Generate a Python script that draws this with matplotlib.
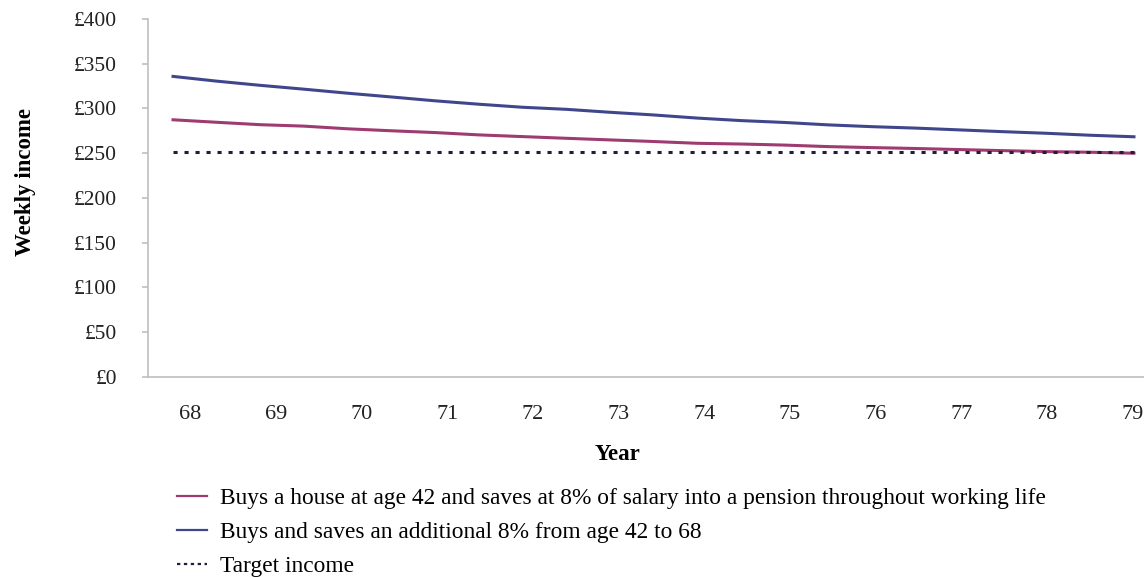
import matplotlib
matplotlib.use("Agg")
import matplotlib.pyplot as plt

plt.rcParams['font.family'] = ['Liberation Serif', 'DejaVu Serif']

# half-year steps from age 68 to 79
ages = [68.0, 68.5, 69.0, 69.5, 70.0, 70.5, 71.0, 71.5, 72.0, 72.5, 73.0, 73.5,
        74.0, 74.5, 75.0, 75.5, 76.0, 76.5, 77.0, 77.5, 78.0, 78.5, 79.0]

house_8pct = [287.3, 284.5, 281.8, 280.2, 277.2, 275.0, 273.0, 270.4, 268.5, 266.6,
              264.8, 263.0, 261.0, 260.2, 259.0, 257.3, 256.2, 255.2, 254.0, 252.8,
              251.7, 251.0, 249.9]
extra_8pct = [335.8, 330.5, 325.8, 321.5, 317.0, 312.8, 308.5, 304.7, 301.3, 299.0,
              295.7, 292.7, 289.2, 286.4, 284.3, 281.6, 279.6, 278.0, 276.0, 274.0,
              272.2, 270.0, 268.3]
target = [251.0] * len(ages)

year_labels = ['68', '69', '70', '71', '72', '73', '74', '75', '76', '77', '78', '79']
y_ticks = [0, 50, 100, 150, 200, 250, 300, 350, 400]

labels = ['Buys a house at age 42 and saves at 8% of salary into a pension throughout working life',
          'Buys and saves an additional 8% from age 42 to 68',
          'Target income']

fig = plt.figure(figsize=(11.44, 5.77), dpi=100)
ax = fig.add_axes([0.1294, 0.3471, 0.8706, 0.6200])

l1, = ax.plot(ages, house_8pct, color='#9E3B70', lw=2.2)
l2, = ax.plot(ages, extra_8pct, color='#40468C', lw=2.2)
l3, = ax.plot(ages, target, color='#231C3A', lw=2.2, linestyle=(0, (1.35, 2.25)))

ax.set_xlim(67.714, 79.115)
ax.set_ylim(0, 400)

ax.set_yticks(y_ticks)
ax.set_yticklabels(['£%d' % v for v in y_ticks])
tick_pos = [68.195 + 0.981 * k for k in range(len(year_labels))]
ax.set_xticks(tick_pos)
ax.set_xticklabels(year_labels)

for s in ['top', 'right']:
    ax.spines[s].set_visible(False)
for s in ['left', 'bottom']:
    ax.spines[s].set_color('#BFBFBF')
    ax.spines[s].set_linewidth(1.2)

ax.tick_params(axis='y', length=4.5, width=1.2, color='#BFBFBF', labelsize=15.5, pad=18,
               labelcolor='#222222')
ax.tick_params(axis='x', length=0, labelsize=16, pad=20, labelcolor='#222222')

ax.set_ylabel('Weekly income', fontsize=16.5, fontweight='bold')
ax.yaxis.set_label_coords(-0.1125, 0.545)
ax.set_xlabel('Year', fontsize=16.5, fontweight='bold')
ax.xaxis.set_label_coords((617 - 148) / (1144 - 148), -0.187)

leg = fig.legend([l1, l2, l3], labels, loc='upper left', bbox_to_anchor=(0.1467, 0.171),
                 frameon=False, fontsize=16.8, handlelength=1.3, handletextpad=0.55,
                 labelspacing=0.54, borderaxespad=0)
for h in leg.legend_handles:
    h.set_linewidth(1.6)
leg.legend_handles[2].set_linestyle((0, (1.5, 1.6)))

fig.savefig('out.png', dpi=100)
